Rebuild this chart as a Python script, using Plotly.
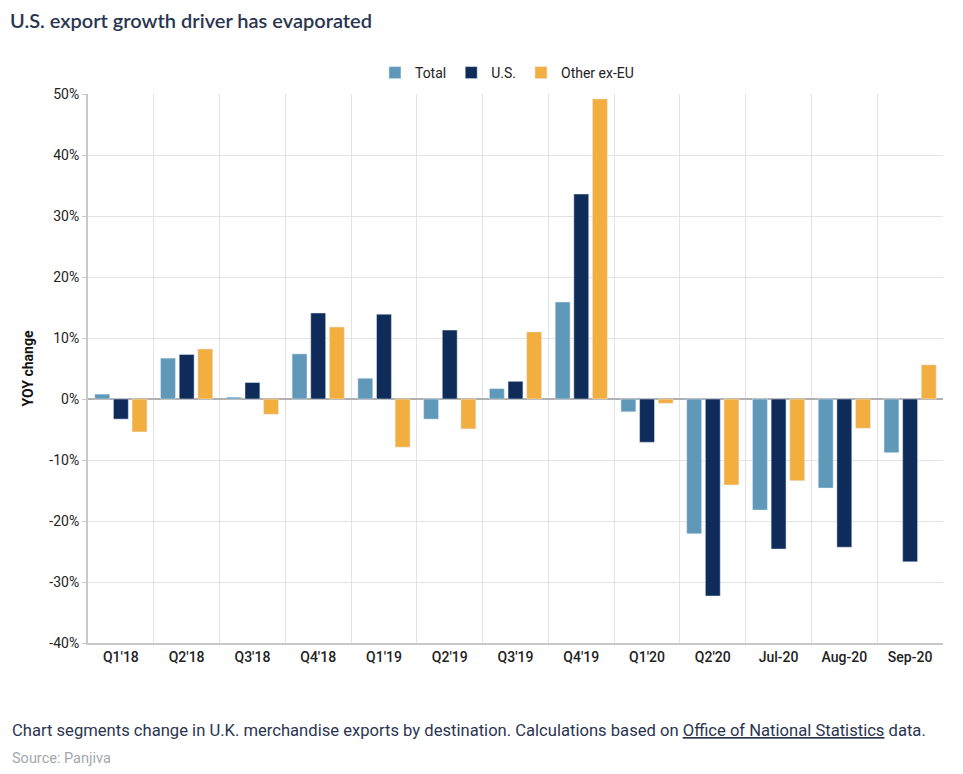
import plotly.graph_objects as go

categories = ["Q1'18", "Q2'18", "Q3'18", "Q4'18", "Q1'19", "Q2'19", "Q3'19",
              "Q4'19", "Q1'20", "Q2'20", "Jul-20", "Aug-20", "Sep-20"]
total = [0.8, 6.7, 0.3, 7.4, 3.4, -3.3, 1.7, 15.9, -2.1, -22.1, -18.2, -14.6, -8.8]
us = [-3.3, 7.3, 2.7, 14.1, 13.9, 11.3, 2.9, 33.6, -7.1, -32.3, -24.6, -24.3, -26.7]
other_ex_eu = [-5.4, 8.2, -2.5, 11.8, -7.9, -4.9, 11.0, 49.2, -0.7, -14.1, -13.4, -4.8, 5.6]
y_ticks = [-40, -30, -20, -10, 0, 10, 20, 30, 40, 50]
y_tick_labels = ["-40%", "-30%", "-20%", "-10%", "0%", "10%", "20%", "30%", "40%", "50%"]

font_main = "Roboto, Arial, sans-serif"

# page body has an 8px default margin, so the figure is 8px smaller and offset
W, H = 955, 766
OFF = 8

fig = go.Figure()
fig.add_trace(go.Bar(name="Total", x=categories, y=total, marker_color="#5f98b8"))
fig.add_trace(go.Bar(name="U.S.", x=categories, y=us, marker_color="#0e2b5a"))
fig.add_trace(go.Bar(name="Other ex-EU", x=categories, y=other_ex_eu, marker_color="#f2ae3f"))

pl, pr, pt, pb = 88 - OFF, 963 - 943, 94 - OFF, 774 - 643
ph = 643 - 94
pw = 943 - 88

fig.update_layout(
    width=W, height=H,
    paper_bgcolor="white", plot_bgcolor="white",
    barmode="group", bargap=0.15, bargroupgap=0.2,
    margin=dict(l=pl, r=pr, t=pt, b=pb),
    font=dict(family=font_main, size=14, color="#222222"),
    title=dict(text="U.S. export growth driver has evaporated",
               x=(10 - OFF)/W, xref="container", xanchor="left",
               y=1.0, yref="container", yanchor="top", pad=dict(t=6),
               font=dict(family="Lato, Noto Sans, sans-serif", size=20, color="#2b3550", weight=600)),
    legend=dict(orientation="h", x=0.49, xanchor="center", y=(643 - 73)/ph, yanchor="middle",
                font=dict(size=14, color="#222222"), itemwidth=30, traceorder="normal",
                bgcolor="rgba(0,0,0,0)"),
    showlegend=True,
)

fig.update_xaxes(
    type="category", tickson="boundaries",
    showgrid=True, gridcolor="#e3e3e3", gridwidth=1,
    showline=True, linecolor="#c8c8c8", linewidth=2,
    ticks="", tickfont=dict(size=14, color="#222222", weight=500),
)
fig.update_yaxes(
    range=[-40, 50], tickvals=y_ticks, ticktext=y_tick_labels,
    showgrid=True, gridcolor="#e3e3e3", gridwidth=1,
    zeroline=True, zerolinecolor="#b0b0b0", zerolinewidth=1.5,
    showline=True, linecolor="#c8c8c8", linewidth=2,
    ticks="outside", ticklen=4, tickcolor="#c8c8c8",
    tickfont=dict(size=14, color="#222222"),
    title=dict(text="<b>YOY change</b>", font=dict(size=14, color="#111111"), standoff=12),
)

fig.add_annotation(
    text="Chart segments change in U.K. merchandise exports by destination. Calculations based on "
         "<u>Office of National Statistics</u> data.",
    xref="paper", yref="paper", x=(10-88)/pw, y=(643-731)/ph,
    xanchor="left", yanchor="middle", showarrow=False,
    font=dict(family="Roboto, sans-serif", size=16.6, color="#2b3550"),
)
fig.add_annotation(
    text="Source: Panjiva",
    xref="paper", yref="paper", x=(10-88)/pw, y=(643-758)/ph,
    xanchor="left", yanchor="middle", showarrow=False,
    font=dict(family="Roboto, sans-serif", size=14.5, color="#a3a7ae"),
)

fig.write_html("out.html")
